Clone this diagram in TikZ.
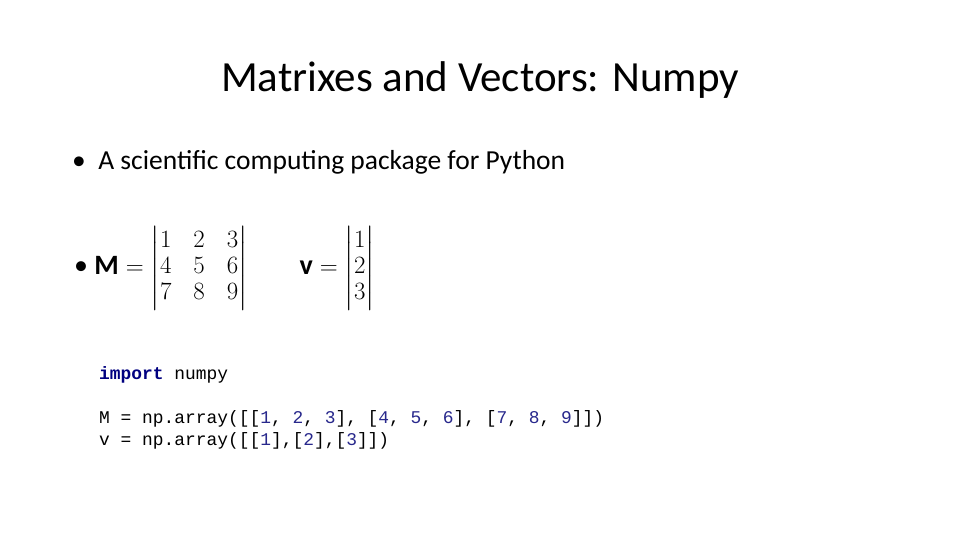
\documentclass[tikz,border=0pt]{standalone}
\usepackage{amsmath,amssymb}
\usepackage{fontspec}
\setmainfont{Carlito}
\setmonofont{Liberation Mono}
\definecolor{kwblue}{RGB}{0,0,128}
\definecolor{numblue}{RGB}{40,40,140}
\newcommand{\num}[1]{\textcolor{numblue}{#1}}
\begin{document}
\begin{tikzpicture}[x=1pt,y=-1pt,
    code/.style={anchor=west,font=\fontsize{17.9}{21}\ttfamily,inner sep=0pt}]
\useasboundingbox[fill=white] (0,0) rectangle (960,540);
\node[font=\fontsize{43}{50}\selectfont] (title) at (480,80) {Matrixes and Vectors: Numpy};
\node[anchor=west,font=\fontsize{27.5}{32}\selectfont,inner sep=0pt] (pkg) at (72,162) {\textbullet\ \ A scientific computing package for Python};
\node[anchor=west,font=\fontsize{28}{32}\selectfont,inner sep=0pt] (mat) at (74,268)
  {\textbullet\ $\mathbf{M}=\setlength\arraycolsep{11pt}\renewcommand\arraystretch{0.82}\begin{vmatrix}1&2&3\\4&5&6\\7&8&9\end{vmatrix}\hspace{48pt}
   \mathbf{v}=\begin{vmatrix}1\\2\\3\end{vmatrix}$};
\node[code] (imp) at (99,375) {\textcolor{kwblue}{\textbf{import}} numpy};
\node[code] (cm) at (99,419) {M = np.array([[\num{1}, \num{2}, \num{3}], [\num{4}, \num{5}, \num{6}], [\num{7}, \num{8}, \num{9}]])};
\node[code] (cv) at (99,441) {v = np.array([[\num{1}],[\num{2}],[\num{3}]])};
\end{tikzpicture}
\end{document}
